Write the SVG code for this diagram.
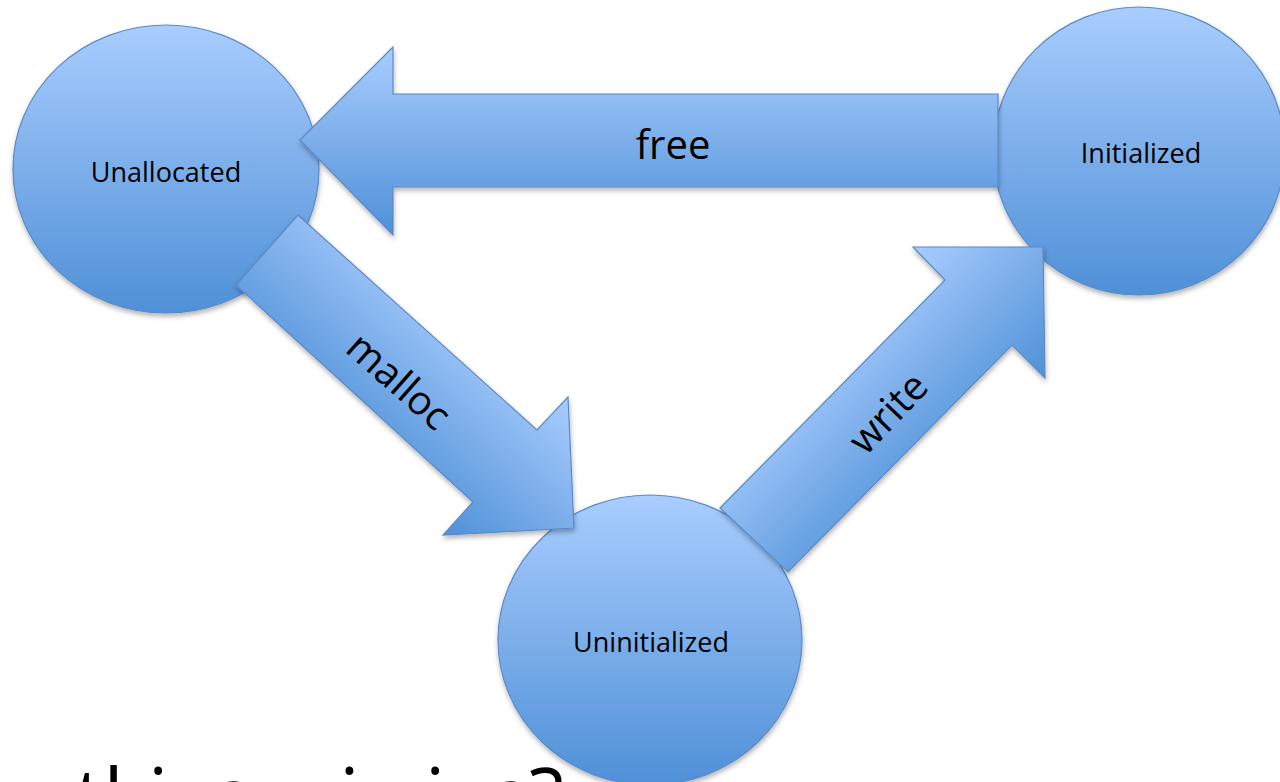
<svg xmlns="http://www.w3.org/2000/svg" width="1280" height="782" viewBox="0 0 1280 782">
  <defs>
    <linearGradient id="gCircle" x1="0" y1="0" x2="0" y2="1">
      <stop offset="0" stop-color="#a9cdfe"/>
      <stop offset="1" stop-color="#4f90d7"/>
    </linearGradient>
    <linearGradient id="gFree" gradientUnits="userSpaceOnUse" x1="0" y1="47" x2="0" y2="235">
      <stop offset="0" stop-color="#a9cdfe"/>
      <stop offset="1" stop-color="#4f90d7"/>
    </linearGradient>
    <linearGradient id="gMalloc" gradientUnits="userSpaceOnUse" x1="568" y1="397" x2="443" y2="535">
      <stop offset="0" stop-color="#a9cdfe"/>
      <stop offset="1" stop-color="#4f90d7"/>
    </linearGradient>
    <linearGradient id="gWrite" gradientUnits="userSpaceOnUse" x1="913" y1="247" x2="1045" y2="378">
      <stop offset="0" stop-color="#a9cdfe"/>
      <stop offset="1" stop-color="#4f90d7"/>
    </linearGradient>
    <filter id="shadow" x="-10%" y="-10%" width="120%" height="125%">
      <feDropShadow dx="0.5" dy="3" stdDeviation="2.5" flood-color="#000" flood-opacity="0.3"/>
    </filter>
  </defs>
  <style>
    .node { fill: url(#gCircle); stroke: #5a8ac6; stroke-width: 1.2; filter: url(#shadow); }
    .arrow { stroke: #5a8ac6; stroke-width: 1.2; stroke-linejoin: miter; filter: url(#shadow); }
    .nlabel { font-family: "Open Sans", "Liberation Sans", sans-serif; font-size: 27px; fill: #000; text-anchor: middle; }
    .elabel { font-family: "Open Sans", "Liberation Sans", sans-serif; font-size: 40px; fill: #000; text-anchor: middle; }
    .big { font-family: "Open Sans", "Liberation Sans", sans-serif; font-size: 80px; fill: #000; }
  </style>
  <rect x="0" y="0" width="1280" height="782" fill="#ffffff"/>

  <text class="big" x="75 103.4 148 167.5 212.1 252.1 271.3 339.2 358.7 391.9 425.1 444.6 489.2 529.2" y="826">thing missing?</text>

  <g id="node-unallocated">
    <ellipse class="node" cx="166" cy="169" rx="153" ry="144"/>
    <text class="nlabel" x="166" y="182">Unallocated</text>
  </g>
  <g id="node-initialized">
    <ellipse class="node" cx="1139" cy="151" rx="146" ry="144"/>
    <text class="nlabel" x="1141" y="163">Initialized</text>
  </g>
  <g id="node-uninitialized">
    <ellipse class="node" cx="650" cy="640" rx="152" ry="145"/>
    <text class="nlabel" x="651" y="652">Uninitialized</text>
  </g>

  <g id="connectors">
    <g id="edge-free">
      <polygon class="arrow" fill="url(#gFree)" points="998,94 393,94 393,47 300,140 393,235 393,187 998,187"/>
      <text class="elabel" x="673" y="159">free</text>
    </g>
    <g id="edge-malloc">
      <polygon class="arrow" fill="url(#gMalloc)" points="298,215 537,430 568,397 574,528 443,535 473,502 236,285"/>
      <text class="elabel" transform="translate(399,381) rotate(41.5)" x="0" y="14">malloc</text>
    </g>
    <g id="edge-write">
      <polygon class="arrow" fill="url(#gWrite)" points="720,508 945,280 913,247 1043,247 1045,378 1012,345 788,572"/>
      <text class="elabel" transform="translate(888,413) rotate(-46.5)" x="0" y="14">write</text>
    </g>
  </g>
</svg>
